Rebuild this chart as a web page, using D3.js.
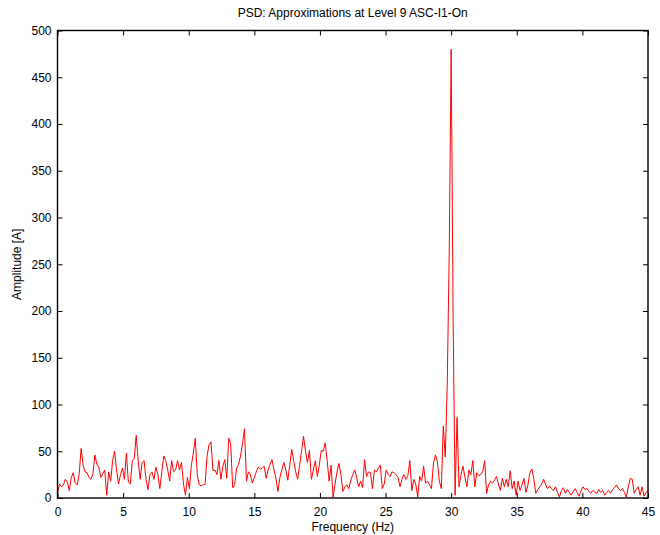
<!DOCTYPE html>
<html>
<head>
<meta charset="utf-8">
<script src="https://cdn.jsdelivr.net/npm/d3@7"></script>
<style>
  html, body { margin: 0; padding: 0; background: #fff; }
  svg { display: block; font-family: Arial, "Liberation Sans", sans-serif; }
</style>
</head>
<body>
<svg id="chart" width="660" height="535"></svg>
<script>
// Spectrum sampled every 0.15 Hz from 0 to 45 Hz
const freqStep = 0.15;
const amplitude = [
  5, 15, 12, 14, 20, 17, 8, 22, 27, 16,
  14, 25, 53, 35, 28, 27, 22, 20, 26, 46,
  36, 33, 22, 26, 30, 3, 28, 18, 40, 50,
  30, 15, 25, 32, 20, 48, 17, 15, 40, 42,
  67, 40, 20, 38, 40, 20, 9, 25, 28, 20,
  33, 25, 10, 28, 45, 40, 30, 18, 40, 28,
  30, 40, 30, 38, 15, 3, 22, 10, 35, 48,
  64, 25, 14, 13, 14, 15, 45, 57, 60, 29,
  30, 25, 40, 20, 34, 41, 21, 64, 58, 11,
  14, 32, 36, 45, 58, 74, 18, 28, 25, 16,
  22, 28, 33, 31, 32, 34, 21, 30, 36, 41,
  30, 21, 7, 22, 30, 38, 30, 19, 35, 52,
  40, 28, 20, 35, 50, 66, 50, 38, 51, 20,
  30, 40, 23, 35, 51, 50, 59, 40, 18, 35,
  1, 15, 28, 37, 25, 7, 12, 14, 10, 19,
  25, 30, 22, 12, 18, 11, 41, 23, 28, 27,
  10, 30, 28, 32, 35, 10, 15, 30, 25, 23,
  28, 27, 25, 22, 12, 20, 25, 20, 24, 40,
  8, 20, 15, 1, 23, 18, 34, 16, 18, 14,
  10, 37, 46, 39, 18, 10, 77, 44, 120, 260,
  480, 190, 3, 86, 12, 25, 34, 22, 12, 30,
  25, 40, 12, 27, 24, 25, 28, 40, 5, 14,
  18, 16, 19, 23, 15, 8, 21, 12, 20, 12,
  29, 10, 18, 3, 18, 8, 14, 21, 6, 14,
  27, 31, 20, 5, 9, 12, 15, 20, 14, 10,
  13, 10, 8, 12, 6, 1, 8, 11, 5, 9,
  6, 3, 7, 10, 6, 2, 8, 12, 9, 10,
  7, 5, 8, 6, 5, 9, 6, 8, 3, 6,
  8, 5, 9, 11, 14, 10, 8, 10, 6, 1,
  12, 21, 20, 5, 9, 12, 3, 12, 2, 6,
  8
];
const xTicks = [0, 5, 10, 15, 20, 25, 30, 35, 40, 45];
const yTicks = [0, 50, 100, 150, 200, 250, 300, 350, 400, 450, 500];

const titleText = "PSD: Approximations at Level 9 ASC-I1-On";
const xLabelText = "Frequency (Hz)";
const yLabelText = "Amplitude [A]";

const svg = d3.select("#chart");
const margin = { left: 57.5, right: 12, top: 30.5, bottom: 37 };
const W = 660, H = 535;
const x0 = margin.left, x1 = W - margin.right;
const y0 = H - margin.bottom, y1 = margin.top;

const x = d3.scaleLinear().domain([0, 45]).range([x0, x1]);
const y = d3.scaleLinear().domain([0, 500]).range([y0, y1]);

const points = amplitude.map((v, i) => [i * freqStep, v]);

// Signal trace
svg.append("path")
  .datum(points)
  .attr("fill", "none")
  .attr("stroke", "#ff0000")
  .attr("stroke-width", 1)
  .attr("stroke-linejoin", "miter")
  .attr("d", d3.line().x(d => x(d[0])).y(d => y(d[1])));

const tickLen = 5;
const fontSize = 12;

// Bottom axis with labels, ticks pointing inward
const axBottom = svg.append("g")
  .attr("transform", `translate(0,${y0})`)
  .call(d3.axisBottom(x).tickValues(xTicks).tickSize(-tickLen).tickPadding(9).tickFormat(d3.format("d")));
// Top axis: ticks only
const axTop = svg.append("g")
  .attr("transform", `translate(0,${y1})`)
  .call(d3.axisTop(x).tickValues(xTicks).tickSize(-tickLen).tickFormat(""));
// Left axis with labels
const axLeft = svg.append("g")
  .attr("transform", `translate(${x0},0)`)
  .call(d3.axisLeft(y).tickValues(yTicks).tickSize(-tickLen).tickPadding(6).tickFormat(d3.format("d")));
// Right axis: ticks only
const axRight = svg.append("g")
  .attr("transform", `translate(${x1},0)`)
  .call(d3.axisRight(y).tickValues(yTicks).tickSize(-tickLen).tickFormat(""));

[axBottom, axTop, axLeft, axRight].forEach(g => {
  g.selectAll(".domain").remove();
  g.selectAll(".tick line").attr("stroke", "#000").attr("stroke-width", 1);
  g.selectAll(".tick text")
    .attr("fill", "#000")
    .style("font-size", fontSize + "px")
    .style("font-family", "Arial, 'Liberation Sans', sans-serif");
});

// Frame around the plotting area
svg.append("rect")
  .attr("x", x0).attr("y", y1)
  .attr("width", x1 - x0).attr("height", y0 - y1)
  .attr("fill", "none")
  .attr("stroke", "#000")
  .attr("stroke-width", 1.4);

// Title and axis labels
svg.append("text")
  .attr("x", (x0 + x1) / 2).attr("y", 17)
  .attr("text-anchor", "middle")
  .style("font-size", fontSize + "px")
  .text(titleText);

svg.append("text")
  .attr("x", (x0 + x1) / 2).attr("y", 531)
  .attr("text-anchor", "middle")
  .style("font-size", fontSize + "px")
  .text(xLabelText);

svg.append("text")
  .attr("transform", `translate(21,${(y0 + y1) / 2}) rotate(-90)`)
  .attr("text-anchor", "middle")
  .style("font-size", fontSize + "px")
  .text(yLabelText);
</script>
</body>
</html>
